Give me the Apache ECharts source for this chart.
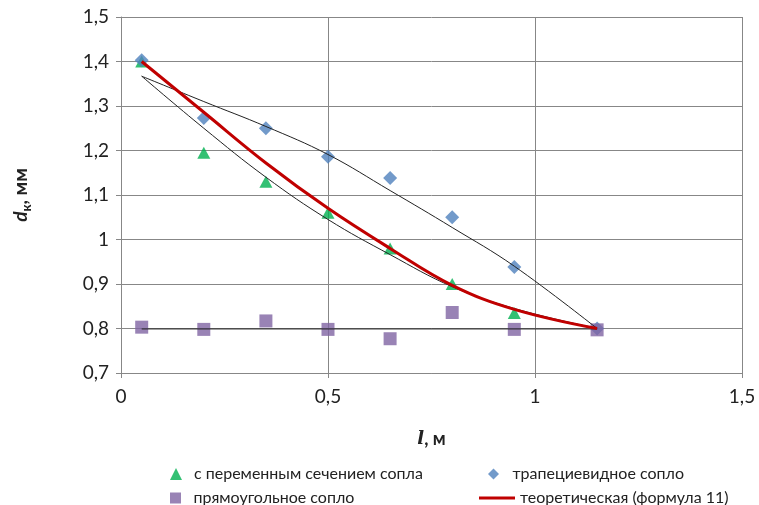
<!DOCTYPE html>
<html>
<head>
<meta charset="utf-8">
<script src="https://cdn.jsdelivr.net/npm/echarts@6/dist/echarts.min.js"></script>
<style>
html,body{margin:0;padding:0;background:#fff;}
#chart{width:759px;height:505px;}
</style>
</head>
<body>
<div id="chart"></div>
<script>
const xVals = [0.05, 0.2, 0.35, 0.5, 0.65, 0.8, 0.95, 1.15];
const triangleY = [1.40, 1.195, 1.13, 1.06, 0.98, 0.90, 0.835];
const diamondY = [1.403, 1.273, 1.25, 1.186, 1.138, 1.05, 0.938, 0.80];
const squareY = [0.803, 0.798, 0.817, 0.798, 0.777, 0.836, 0.798, 0.797];
const theoryY = [1.40, 1.286, 1.172, 1.07, 0.98, 0.897, 0.843, 0.80];
const trendUpperY = [1.367, 1.31, 1.254, 1.191, 1.11, 1.027, 0.94, 0.80];
const trendLowerY = [1.367, 1.25, 1.14, 1.045, 0.966, 0.894, 0.845, 0.80];
const trendFlatX = [0.05, 1.15];
const trendFlatY = [0.799, 0.799];
const names = ['с переменным сечением сопла', 'трапециевидное сопло', 'прямоугольное сопло', 'теоретическая (формула 11)'];

function pairs(xs, ys) { return ys.map((y, i) => [xs[i], y]); }
const fmt = v => String(Math.round(v * 10) / 10).replace('.', ',');
const gridColor = '#878787';
const font = 'Lato, "Open Sans", sans-serif';
const legendText = { fontFamily: font, fontSize: 16, color: '#222' };

const chart = echarts.init(document.getElementById('chart'));
chart.setOption({
  animation: false,
  backgroundColor: '#fff',
  grid: { left: 121, right: 17, top: 17, bottom: 132 },
  xAxis: {
    type: 'value', min: 0, max: 1.5, interval: 0.5,
    axisLine: { show: true, lineStyle: { color: gridColor } },
    axisTick: { show: true, length: 5, lineStyle: { color: gridColor } },
    splitLine: { show: true, lineStyle: { color: gridColor } },
    axisLabel: { formatter: fmt, fontFamily: font, fontSize: 19, color: '#222', margin: 14 },
    name: '{i|l}{b|, м}', nameLocation: 'middle', nameGap: 57,
    nameTextStyle: {
      rich: {
        i: { fontFamily: '"DejaVu Serif", serif', fontStyle: 'italic', fontWeight: 'bold', fontSize: 18, color: '#222' },
        b: { fontFamily: font, fontWeight: 'bold', fontSize: 18, color: '#222' }
      }
    }
  },
  yAxis: {
    type: 'value', min: 0.7, max: 1.5, interval: 0.1,
    axisLine: { show: true, lineStyle: { color: gridColor } },
    axisTick: { show: true, length: 5, lineStyle: { color: gridColor } },
    splitLine: { show: true, lineStyle: { color: gridColor } },
    axisLabel: { formatter: fmt, fontFamily: font, fontSize: 19, color: '#222', margin: 12 },
    name: '{d|d}{s|к}{b|, мм}', nameLocation: 'middle', nameGap: 88, nameRotate: 90,
    nameTextStyle: {
      rich: {
        d: { fontFamily: font, fontStyle: 'italic', fontWeight: 'bold', fontSize: 19, color: '#222', lineHeight: 24, verticalAlign: 'middle' },
        s: { fontFamily: font, fontWeight: 'bold', fontSize: 13, color: '#222', lineHeight: 24, verticalAlign: 'bottom' },
        b: { fontFamily: font, fontWeight: 'bold', fontSize: 19, color: '#222', lineHeight: 24, verticalAlign: 'middle' }
      }
    }
  },
  legend: [
    { data: [names[0]], left: 165, top: 461, icon: 'path://M5,0L10,10L0,10Z', itemWidth: 26, itemHeight: 12, symbolKeepAspect: true, textStyle: legendText },
    { data: [names[1]], left: 483, top: 461, icon: 'path://M5,0L10,5L5,10L0,5Z', itemWidth: 28, itemHeight: 11, symbolKeepAspect: true, textStyle: legendText },
    { data: [names[2]], left: 165, top: 485, icon: 'path://M0,0H10V10H0Z', itemWidth: 26, itemHeight: 11, symbolKeepAspect: true, textStyle: legendText },
    { data: [names[3]], left: 474, top: 485, icon: 'rect', itemWidth: 36, itemHeight: 3, textStyle: legendText }
  ],
  series: [
    { name: names[0], type: 'scatter', symbol: 'triangle', symbolSize: [13, 12], data: pairs(xVals, triangleY), itemStyle: { color: '#00B050' }, z: 2 },
    { name: names[1], type: 'scatter', symbol: 'diamond', symbolSize: [14, 14], data: pairs(xVals, diamondY), itemStyle: { color: '#4F81BD' }, z: 2.5 },
    { name: names[2], type: 'scatter', symbol: 'rect', symbolSize: 13, data: pairs(xVals, squareY), itemStyle: { color: '#8064A2' }, z: 3 },
    { name: 'trend1', type: 'line', smooth: 0.4, symbol: 'none', data: pairs(xVals, trendUpperY), lineStyle: { color: '#222', width: 1 }, z: 4 },
    { name: 'trend2', type: 'line', smooth: 0.4, symbol: 'none', data: pairs(xVals, trendLowerY), lineStyle: { color: '#222', width: 1 }, z: 4 },
    { name: 'trend3', type: 'line', symbol: 'none', data: pairs(trendFlatX, trendFlatY), lineStyle: { color: '#222', width: 1 }, z: 4 },
    { name: names[3], type: 'line', smooth: 0.4, symbol: 'none', data: pairs(xVals, theoryY), itemStyle: { color: '#C00000' }, lineStyle: { color: '#C00000', width: 3 }, z: 5 }
  ]
});
</script>
</body>
</html>
